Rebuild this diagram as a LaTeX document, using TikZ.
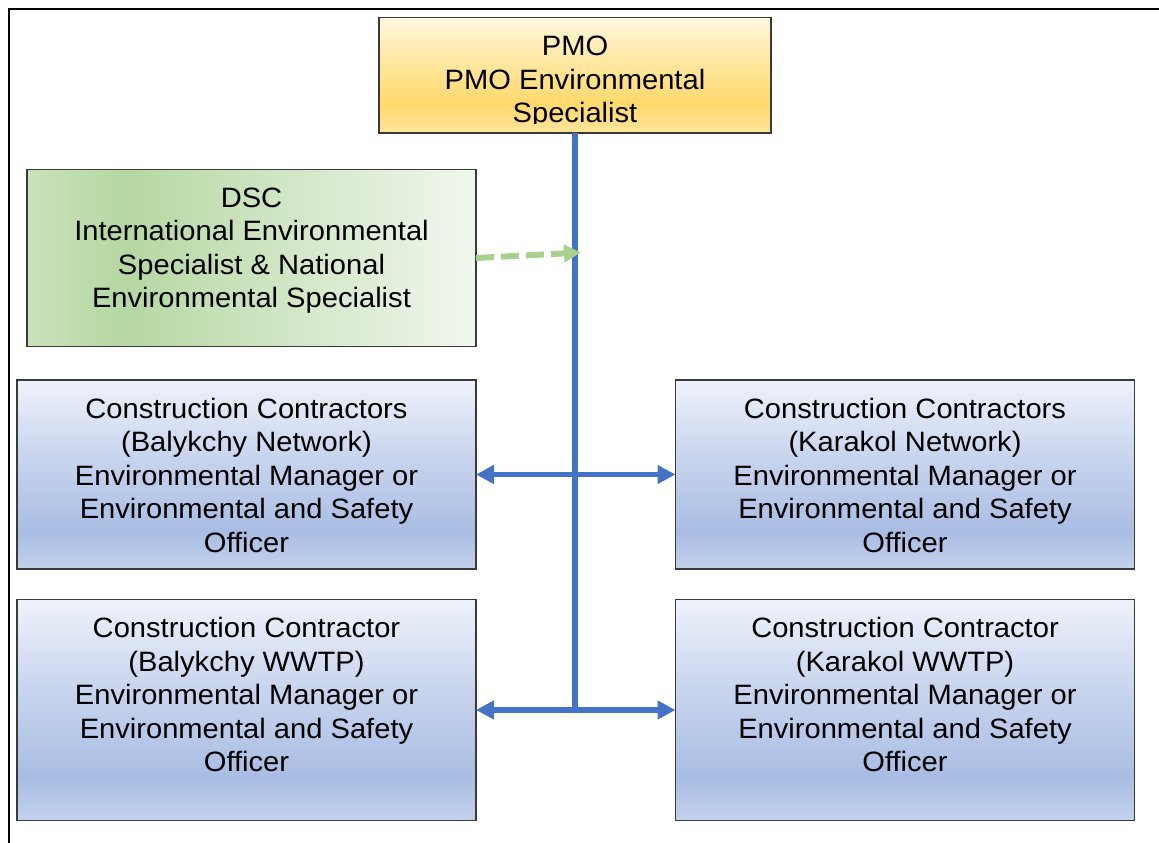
\documentclass[tikz,border=0pt]{standalone}
\usepackage{fontspec}
\setmainfont{Liberation Sans}[FakeStretch=1.04]
\usetikzlibrary{arrows.meta,calc}

% fills
\definecolor{btop}{HTML}{EEF2FA}
\definecolor{bmid}{HTML}{C9D5EE}
\definecolor{bdark}{HTML}{A9BDE3}
\definecolor{bbot}{HTML}{C3D1EC}
\definecolor{ytop}{HTML}{FFF7E0}
\definecolor{ymid}{HTML}{FFE9A8}
\definecolor{ydark}{HTML}{FFD96C}
\definecolor{ybot}{HTML}{FFE49C}
\definecolor{gleft}{HTML}{C9E2BB}
\definecolor{gdark}{HTML}{B5D7A2}
\definecolor{gmid}{HTML}{D3E7C8}
\definecolor{gright}{HTML}{F1F7EE}
% strokes
\definecolor{linkblue}{HTML}{4472C4}
\definecolor{linkgreen}{HTML}{A9D18E}
\definecolor{edge}{HTML}{3A3A3A}

% the drawn path spans 25bp..75bp of each shading
\pgfdeclareverticalshading{bluefill}{100bp}{color(0bp)=(bbot); color(25bp)=(bbot); color(35bp)=(bdark); color(55bp)=(bmid); color(75bp)=(btop); color(100bp)=(btop)}
\pgfdeclareverticalshading{goldfill}{100bp}{color(0bp)=(ybot); color(25bp)=(ybot); color(38bp)=(ydark); color(58bp)=(ymid); color(75bp)=(ytop); color(100bp)=(ytop)}
\pgfdeclarehorizontalshading{greenfill}{100bp}{color(0bp)=(gleft); color(25bp)=(gleft); color(36bp)=(gdark); color(55bp)=(gmid); color(75bp)=(gright); color(100bp)=(gright)}

\begin{document}
\begin{tikzpicture}[x=1pt,y=-1pt,
  box/.style={draw=edge, line width=1.2pt, rectangle, inner sep=0pt, outer sep=0pt},
  bluebox/.style={box, shading=bluefill, minimum width=459pt},
  goldbox/.style={box, shading=goldfill},
  greenbox/.style={box, shading=greenfill},
  txt/.style={anchor=north, inner sep=0pt, outer sep=0pt, align=center,
              font=\fontsize{28}{33.5}\selectfont},
  link/.style={draw=linkblue, line width=5.5pt},
  twohead/.style={link, {Triangle[length=18pt,width=18pt]}-{Triangle[length=18pt,width=18pt]}},
  advice/.style={draw=linkgreen, line width=6pt, dash pattern=on 18pt off 7pt,
                 -{Triangle[length=17pt,width=17pt]}}]

\useasboundingbox (0,0) rectangle (1159,843);

% page frame
\draw[line width=2pt] (9,843) -- (9,9.5) -- (1159,9.5);

% boxes
\node[goldbox, minimum width=392pt, minimum height=115.5pt] (P) at (575,75.25) {};
\node[greenbox, minimum width=449pt, minimum height=177pt] (D) at (251.5,258) {};
\node[bluebox, minimum height=189pt] (L1) at (246.5,474.5) {};
\node[bluebox, minimum height=189pt] (R1) at (905,474.5) {};
\node[bluebox, minimum height=221pt] (L2) at (246.5,710) {};
\node[bluebox, minimum height=221pt] (R2) at (905,710) {};

% labels
\begin{scope}
  \clip (P.north west) rectangle ($(P.south east)+(0,-9.5)$);
  \node[txt] (Pt) at ($(P.north)+(0,16)$) {\rule{0pt}{22pt}PMO\\PMO Environmental\\Specialist};
\end{scope}
\node[txt] (Dt) at ($(D.north)+(0,15.5)$) {\rule{0pt}{22pt}DSC\\International Environmental\\Specialist \& National\\Environmental Specialist};
\node[txt] (L1t) at ($(L1.north)+(0,16)$) {\rule{0pt}{22pt}Construction Contractors\\(Balykchy Network)\\Environmental Manager or\\Environmental and Safety\\Officer};
\node[txt] (R1t) at ($(R1.north)+(0,16)$) {\rule{0pt}{22pt}Construction Contractors\\(Karakol Network)\\Environmental Manager or\\Environmental and Safety\\Officer};
\node[txt] (L2t) at ($(L2.north)+(0,16)$) {\rule{0pt}{22pt}Construction Contractor\\(Balykchy WWTP)\\Environmental Manager or\\Environmental and Safety\\Officer};
\node[txt] (R2t) at ($(R2.north)+(0,16)$) {\rule{0pt}{22pt}Construction Contractor\\(Karakol WWTP)\\Environmental Manager or\\Environmental and Safety\\Officer};

% reporting lines
\coordinate (jn) at ($(P.south |- L2.east)+(0,2.75)$);
\draw[link, line width=6pt] (P.south) -- (jn);
\draw[twohead] (L1.east) -- (R1.west);
\draw[twohead] (L2.east) -- (R2.west);

% advisory link from DSC
\coordinate (dtip) at (581,252.5);
\draw[advice] (D.east) -- (dtip);

\end{tikzpicture}
\end{document}
